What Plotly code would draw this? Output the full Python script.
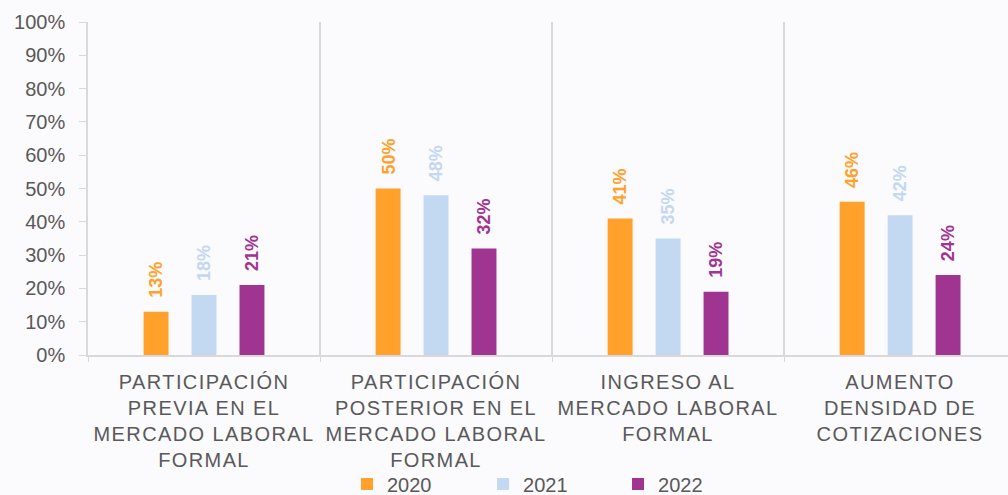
import plotly.graph_objects as go

categories = [
    "PARTICIPACIÓN<br>PREVIA EN EL<br>MERCADO LABORAL<br>FORMAL",
    "PARTICIPACIÓN<br>POSTERIOR EN EL<br>MERCADO LABORAL<br>FORMAL",
    "INGRESO AL<br>MERCADO LABORAL<br>FORMAL",
    "AUMENTO<br>DENSIDAD DE<br>COTIZACIONES",
]
series_names = ["2020", "2021", "2022"]
v2020 = [0.13, 0.50, 0.41, 0.46]
v2021 = [0.18, 0.48, 0.35, 0.42]
v2022 = [0.21, 0.32, 0.19, 0.24]
values = [v2020, v2021, v2022]
colors = ["#FFA12B", "#C3D8F1", "#A03591"]

TEXT = "#595959"
GRID = "#D9D9D9"
BG = "#FBFAFD"
FONT = "Liberation Sans, Arial, sans-serif"

xpos = list(range(len(categories)))
bargap = 0.38
slot = (1 - bargap) / 3

legend_ids = ["legend", "legend2", "legend3"]
legend_x = [0.2815, 0.4294, 0.5761]

fig = go.Figure()
for i, (name, vals, col) in enumerate(zip(series_names, values, colors)):
    fig.add_trace(go.Bar(x=xpos, y=vals, name=name, marker_color=col,
                         marker_line_width=0, legend=legend_ids[i]))
    for xc, v in zip(xpos, vals):
        fig.add_annotation(x=xc + (i - 1) * slot, y=v, xref="x", yref="y",
                           text=f"<b>{v:.0%}</b>", textangle=-90, showarrow=False,
                           yanchor="bottom", yshift=12,
                           font=dict(family=FONT, size=18, color=col))

for xc, cat in zip(xpos, categories):
    fig.add_annotation(x=xc, y=0, xref="x", yref="paper", text=cat,
                       showarrow=False, yanchor="top", yshift=-14,
                       font=dict(family=FONT, size=20, color=TEXT))

legend_common = dict(orientation="h", xanchor="left", yref="container", y=0.022,
                     yanchor="middle", font=dict(family=FONT, size=20, color=TEXT),
                     itemclick=False, bgcolor="rgba(0,0,0,0)")

fig.update_layout(
    width=1008, height=495,
    margin=dict(l=88, r=0, t=22, b=140),
    paper_bgcolor=BG, plot_bgcolor=BG,
    barmode="group", bargap=bargap, bargroupgap=0.48,
    font=dict(family=FONT, color=TEXT),
    showlegend=True,
    legend=dict(x=legend_x[0], **legend_common),
    legend2=dict(x=legend_x[1], **legend_common),
    legend3=dict(x=legend_x[2], **legend_common),
)
fig.update_xaxes(range=[-0.5, 3.465], tickvals=[-0.5, 0.5, 1.5, 2.5, 3.5],
                 showticklabels=False, showgrid=True, gridcolor=GRID, gridwidth=1.5,
                 ticks="outside", ticklen=5, tickcolor=GRID,
                 showline=True, linecolor=GRID, linewidth=1.5, zeroline=False)
fig.update_yaxes(range=[0, 1], dtick=0.1, tickformat=".0%", showgrid=False,
                 ticks="outside", ticklen=7, tickcolor=GRID, ticklabelstandoff=10,
                 showline=True, linecolor=GRID, linewidth=1.5, zeroline=False,
                 tickfont=dict(family=FONT, size=20, color=TEXT))

post = """
document.body.style.margin = '0';
document.body.style.background = '%s';
document.querySelectorAll('text.annotation-text').forEach(function(t){
  if (t.textContent.indexOf('%%') < 0) { t.style.letterSpacing = '1.4px'; }
});
""" % BG

fig.write_html("out.html", post_script=post, config={"displayModeBar": False})
